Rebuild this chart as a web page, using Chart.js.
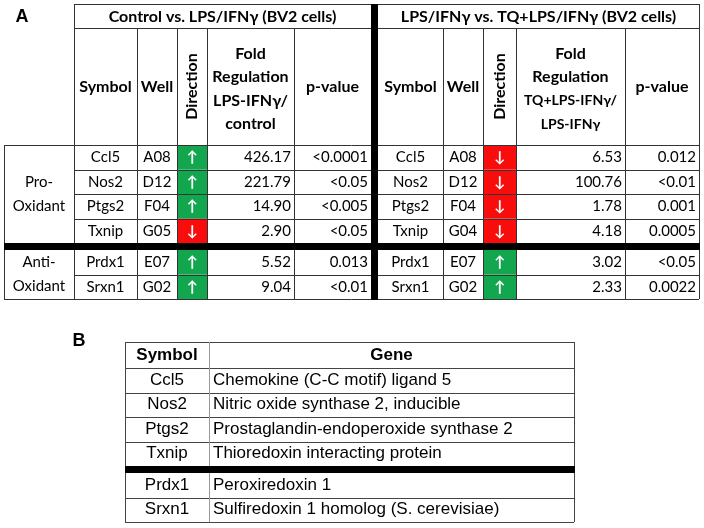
<!DOCTYPE html>
<html>
<head>
<meta charset="utf-8">
<script src="https://cdn.jsdelivr.net/npm/chart.js@4.4.1/dist/chart.umd.min.js"></script>
<style>
    html, body { margin: 0; padding: 0; background: #fff; }
    canvas { display: block; }
</style>
</head>
<body>
<canvas id="tableChart" width="704" height="528"></canvas>
<script>
// ---- data ----
const symbols = ['Ccl5', 'Nos2', 'Ptgs2', 'Txnip', 'Prdx1', 'Srxn1'];
const groupLabels = [['Pro-', 'Oxidant'], ['Anti-', 'Oxidant']];
const groupSizes = [4, 2];

// Control vs. LPS/IFNγ
const wellsLps = ['A08', 'D12', 'F04', 'G05', 'E07', 'G02'];
const directionLps = ['up', 'up', 'up', 'down', 'up', 'up'];
const foldLps = [426.17, 221.79, 14.90, 2.90, 5.52, 9.04];
const pLps = ['<0.0001', '<0.05', '<0.005', '<0.05', '0.013', '<0.01'];

// LPS/IFNγ vs. TQ+LPS/IFNγ
const wellsTq = ['A08', 'D12', 'F04', 'G04', 'E07', 'G02'];
const directionTq = ['down', 'down', 'down', 'down', 'up', 'up'];
const foldTq = [6.53, 100.76, 1.78, 4.18, 3.02, 2.33];
const pTq = ['0.012', '<0.01', '0.001', '0.0005', '<0.05', '0.0022'];

const geneNames = [
    'Chemokine (C-C motif) ligand 5',
    'Nitric oxide synthase 2, inducible',
    'Prostaglandin-endoperoxide synthase 2',
    'Thioredoxin interacting protein',
    'Peroxiredoxin 1',
    'Sulfiredoxin 1 homolog (S. cerevisiae)'
];

const blockTitles = ['Control vs. LPS/IFN\u03b3 (BV2 cells)', 'LPS/IFN\u03b3 vs. TQ+LPS/IFN\u03b3 (BV2 cells)'];
const foldHeaders = [
    ['Fold', 'Regulation', 'LPS-IFN\u03b3/', 'control'],
    ['Fold', 'Regulation', 'TQ+LPS-IFN\u03b3/', 'LPS-IFN\u03b3']
];

// ---- layout (in scale units) ----
const fontA = "Lato, 'Open Sans', sans-serif";
const fontB = "'Liberation Sans', Arial, sans-serif";
const lineA = '#333';
const up = { fill: '#12a64f', arrow: '\u2191' };
const down = { fill: '#f80c0c', arrow: '\u2193' };

const A = {
    top: 4, head1: 28, head2: 145, band: [243, 250], bottom: 299,
    left: 4, labelRight: 74, right: 699,
    rowTops: [145, 169.5, 194, 218.5, 250, 274.5], rowH: 24.5,
    blocks: [
        { cols: [74, 137, 177, 207, 294, 371], wells: wellsLps, dir: directionLps, fold: foldLps, p: pLps },
        { cols: [378, 443, 483, 516, 625, 699], wells: wellsTq, dir: directionTq, fold: foldTq, p: pTq }
    ],
    sep: [371, 378]
};
const B = {
    top: 342, head: 368, band: [466, 473], bottom: 522,
    left: 125, mid: 209, right: 574,
    rowTops: [368, 392.5, 417, 441.5, 473, 497.5], rowH: 24.5
};

const tablePlugin = {
    id: 'geneTable',
    afterDraw(chart) {
        const ctx = chart.ctx;
        const sx = v => chart.scales.x.getPixelForValue(v);
        const sy = v => chart.scales.y.getPixelForValue(v);

        function hline(y, x1, x2, w, c) {
            ctx.beginPath();
            ctx.lineWidth = w;
            ctx.strokeStyle = c;
            const py = Math.round(sy(y)) + 0.5;
            ctx.moveTo(sx(x1), py);
            ctx.lineTo(sx(x2), py);
            ctx.stroke();
        }
        function vline(x, y1, y2, w, c) {
            ctx.beginPath();
            ctx.lineWidth = w;
            ctx.strokeStyle = c;
            const px = Math.round(sx(x)) + 0.5;
            ctx.moveTo(px, sy(y1));
            ctx.lineTo(px, sy(y2));
            ctx.stroke();
        }
        function box(x1, y1, x2, y2, c) {
            ctx.fillStyle = c;
            ctx.fillRect(sx(x1), sy(y1), sx(x2) - sx(x1), sy(y2) - sy(y1));
        }
        function label(t, x, y, font, align, color, rot) {
            ctx.save();
            ctx.font = font;
            ctx.fillStyle = color || '#000';
            ctx.textAlign = align || 'center';
            ctx.textBaseline = 'middle';
            ctx.translate(sx(x), sy(y));
            if (rot) ctx.rotate(rot);
            ctx.fillText(t, 0, 0);
            ctx.restore();
        }

        // ---------- panel A ----------
        label('A', 22, 17, 'bold 18px ' + fontB, 'center');

        A.blocks.forEach((blk, b) => {
            const c = blk.cols;
            // direction fills
            symbols.forEach((s, i) => {
                const d = blk.dir[i] === 'up' ? up : down;
                box(c[2], A.rowTops[i], c[3], A.rowTops[i] + A.rowH, d.fill);
            });
            // headers
            label(blockTitles[b], (c[0] + c[5]) / 2, 16.5, 'bold 16px ' + fontA);
            const hm = (A.head1 + A.head2) / 2;
            label('Symbol', (c[0] + c[1]) / 2, hm, 'bold 16px ' + fontA);
            label('Well', (c[1] + c[2]) / 2, hm, 'bold 16px ' + fontA);
            label('Direction', (c[2] + c[3]) / 2, hm, 'bold 16px ' + fontA, 'center', '#000', -Math.PI / 2);
            foldHeaders[b].forEach((t, k) => {
                const size = (b === 1 && k >= 2) ? 14 : 16;
                label(t, (c[3] + c[4]) / 2, 53.5 + k * 23.5, 'bold ' + size + 'px ' + fontA);
            });
            label('p-value', (c[4] + c[5]) / 2, hm, 'bold 16px ' + fontA);

            // body
            symbols.forEach((s, i) => {
                const cy = A.rowTops[i] + A.rowH / 2;
                const d = blk.dir[i] === 'up' ? up : down;
                label(s, (c[0] + c[1]) / 2, cy, '15px ' + fontA);
                label(blk.wells[i], (c[1] + c[2]) / 2, cy, '15px ' + fontA);
                label(d.arrow, (c[2] + c[3]) / 2, cy, 'bold 15px ' + fontA, 'center', '#fff');
                label(blk.fold[i].toFixed(2), c[4] - 3, cy, '15px ' + fontA, 'right');
                label(blk.p[i], c[5] - 3, cy, '15px ' + fontA, 'right');
            });

            // grid
            hline(A.top, c[0], c[5], 1, lineA);
            hline(A.head1, c[0], c[5], 1, lineA);
            [1, 2, 3, 5].forEach(i => hline(A.rowTops[i], c[0], c[5], 1, lineA));
            for (let k = 1; k < 5; k++) vline(c[k], A.head1, A.bottom, 1, lineA);
        });

        // group labels
        let start = 0;
        groupSizes.forEach((n, g) => {
            const y0 = A.rowTops[start];
            const y1 = A.rowTops[start + n - 1] + A.rowH;
            const cy = (y0 + y1) / 2;
            label(groupLabels[g][0], (A.left + A.labelRight) / 2, cy - 12, '15px ' + fontA);
            label(groupLabels[g][1], (A.left + A.labelRight) / 2, cy + 12, '15px ' + fontA);
            start += n;
        });

        hline(A.head2, A.left, A.right, 1, lineA);
        hline(A.bottom, A.left, A.right, 1, lineA);
        vline(A.left, A.head2, A.bottom, 1, lineA);
        vline(A.labelRight, A.top, A.bottom, 1, lineA);
        vline(A.right, A.top, A.bottom, 1, lineA);
        box(A.left, A.band[0], A.right + 1, A.band[1], '#000');
        box(A.sep[0], A.top, A.sep[1], A.bottom + 1, '#000');

        // ---------- panel B ----------
        label('B', 79, 341, 'bold 18px ' + fontB, 'center');
        const hmB = (B.top + B.head) / 2;
        label('Symbol', (B.left + B.mid) / 2, hmB, 'bold 17px ' + fontB);
        label('Gene', (B.mid + B.right) / 2, hmB, 'bold 17px ' + fontB);
        symbols.forEach((s, i) => {
            const cy = B.rowTops[i] + B.rowH / 2;
            label(s, (B.left + B.mid) / 2, cy, '17px ' + fontB);
            label(geneNames[i], B.mid + 4, cy, '17px ' + fontB, 'left');
        });
        hline(B.top, B.left, B.right, 1, '#444');
        hline(B.head, B.left, B.right, 1, '#444');
        [1, 2, 3, 5].forEach(i => hline(B.rowTops[i], B.left, B.right, 1, '#444'));
        hline(B.bottom, B.left, B.right, 1, '#444');
        vline(B.left, B.top, B.bottom, 1, '#444');
        vline(B.mid, B.top, B.bottom, 1, '#999');
        vline(B.right, B.top, B.bottom, 1, '#444');
        box(B.left, B.band[0], B.right + 1, B.band[1], '#000');
    }
};

new Chart(document.getElementById('tableChart'), {
    type: 'scatter',
    data: { datasets: [] },
    options: {
        responsive: false,
        animation: false,
        events: [],
        layout: { padding: 0 },
        plugins: {
            legend: { display: false },
            tooltip: { enabled: false }
        },
        scales: {
            x: { type: 'linear', min: 0, max: 704, display: false },
            y: { type: 'linear', min: 0, max: 528, reverse: true, display: false }
        }
    },
    plugins: [tablePlugin]
});
</script>
</body>
</html>
